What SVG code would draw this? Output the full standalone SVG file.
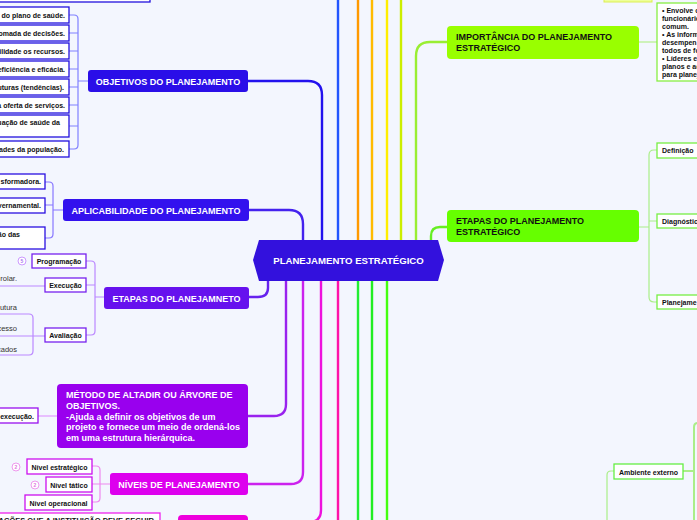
<svg xmlns="http://www.w3.org/2000/svg" width="697" height="520" viewBox="0 0 697 520">
<style>
.t{font-family:"Liberation Sans",Arial,sans-serif;font-weight:bold}
.n{font-size:9px;fill:#fff}
.nk{font-size:9px;fill:#111}
.s{font-size:7px;fill:#111}
.r{font-family:"Liberation Sans",Arial,sans-serif;font-size:7.5px;fill:#333}
.c{fill:none;stroke-linecap:round}
.m{stroke-width:2.4}
.b{fill:#fff;stroke-width:1.3}
</style>
<rect width="697" height="520" fill="#f3f6fe"/>
<g id="connectors" class="c">
<path class="c m" d="M338,240V-2" stroke="#2255ff"/>
<path class="c m" d="M358,240V-2" stroke="#ff9900"/>
<path class="c m" d="M372,240V-2" stroke="#ffbb00"/>
<path class="c m" d="M387,240V-2" stroke="#ffee00"/>
<path class="c m" d="M401,240V-2" stroke="#ccee00"/>
<path class="c m" d="M416,240V56Q416,42 430,42H447" stroke="#99ee33"/>
<path class="c m" d="M322,240V95Q322,81 308,81H248" stroke="#2211ee"/>
<path class="c m" d="M303,240V224Q303,210 289,210H249" stroke="#4422ee"/>
<path class="c m" d="M431,240V236Q431,227 440,227H447" stroke="#66ee22"/>
<path class="c m" d="M268,281V288Q268,297 258,297H249" stroke="#6622ee"/>
<path class="c m" d="M286,281V404Q286,416 274,416H248" stroke="#9922ee"/>
<path class="c m" d="M303,281V472Q303,484 291,484H248" stroke="#cc22ee"/>
<path class="c m" d="M321,281V510Q321,522 309,522" stroke="#ee11dd"/>
<path class="c m" d="M338,281V522" stroke="#ff11aa"/>
<path class="c m" d="M358,281V522" stroke="#22ee33"/>
<path class="c m" d="M372,281V522" stroke="#22ee22"/>
<path class="c m" d="M387,281V522" stroke="#44ff11"/>
<!-- objetivos bracket -->
<path class="c" stroke="#8080ff" stroke-width="1.2" d="M69,15H74Q78,15 78,19V145Q78,149 74,149H69M69,33H78M69,51H78M69,69H78M69,87H78M69,105H78M69,126H78M78,81H88"/>
<!-- aplicabilidade bracket -->
<path class="c" stroke="#8877ff" stroke-width="1.2" d="M45,182H49Q53,182 53,186V234Q53,238 49,238H45M45,205H53M53,210H63"/>
<!-- etapas bracket -->
<path class="c" stroke="#bb88ff" stroke-width="1.2" d="M86,261H91Q95,261 95,265V331Q95,335 91,335H86M86,285H95M95,297H104"/>
<path class="c" stroke="#bb88ff" stroke-width="1.2" d="M0,286H45M0,314H29Q33,314 33,318V351Q33,355 29,355H0M0,336H45"/>
<!-- metodo -->
<path class="c" stroke="#dd88ff" stroke-width="1.2" d="M38,416H57"/>
<!-- niveis bracket -->
<path class="c" stroke="#ee88ee" stroke-width="1.2" d="M92,466H96Q100,466 100,470V498Q100,502 96,502H92M92,484H110"/>
<!-- importancia -->
<path class="c" stroke="#aaee77" stroke-width="1.2" d="M639,42H657"/>
<!-- etapas estrategico bracket -->
<path class="c" stroke="#aaee88" stroke-width="1.2" d="M657,150H654Q649,150 649,155V297Q649,302 654,302H657M649,221H657M639,227H649"/>
<!-- ambiente externo -->
<path class="c" stroke="#aaee88" stroke-width="1.2" d="M614,471H611Q607,471 607,475V522"/>
<path class="c" stroke="#aaee88" stroke-width="2" d="M683,471H694M694,522V427Q694,423 698,423"/>
</g>

<g id="top-left-box"><rect class="b" x="-5" y="-20" width="155" height="22" stroke="#2211dd"/></g>
<g id="top-right-box"><rect x="604" y="-20" width="48" height="22" fill="#eeff99" stroke="#ddee55"/></g>

<g id="center">
<polygon points="259,240 438,240 444,260 438,281 259,281 253,260" fill="#3311dd"/>
<text class="t" x="348.5" y="264" text-anchor="middle" font-size="9.6" fill="#fff">PLANEJAMENTO ESTRATÉGICO</text>
</g>

<g id="objetivos">
<rect x="88" y="70" width="160" height="22" rx="3" fill="#2a0ee8"/>
<text class="t n" x="168" y="84.5" text-anchor="middle">OBJETIVOS DO PLANEJAMENTO</text>
</g>
<g id="objetivos-items" class="t s" text-anchor="end">
<rect class="b" x="-5" y="7" width="74" height="16" stroke="#2211dd"/><text x="65" y="17.5">do plano de saúde.</text>
<rect class="b" x="-5" y="25" width="74" height="16" stroke="#2211dd"/><text x="65" y="35.5">omada de decisões.</text>
<rect class="b" x="-5" y="43" width="74" height="16" stroke="#2211dd"/><text x="65" y="53.5">ilidade os recursos.</text>
<rect class="b" x="-5" y="61" width="74" height="16" stroke="#2211dd"/><text x="65" y="71.5">eficiência e eficácia.</text>
<rect class="b" x="-5" y="79" width="74" height="16" stroke="#2211dd"/><text x="64" y="89.5">uturas (tendências).</text>
<rect class="b" x="-5" y="97" width="74" height="16" stroke="#2211dd"/><text x="65" y="107.5">a oferta de serviços.</text>
<rect class="b" x="-5" y="115" width="74" height="22" stroke="#2211dd"/><text x="60" y="125">uação de saúde da</text>
<rect class="b" x="-5" y="141" width="74" height="16" stroke="#2211dd"/><text x="64" y="151.5">ades da população.</text>
</g>

<g id="aplicabilidade">
<rect x="63" y="199" width="186" height="22" rx="3" fill="#3311ee"/>
<text class="t n" x="156" y="213.5" text-anchor="middle">APLICABILIDADE DO PLANEJAMENTO</text>
</g>
<g id="aplicabilidade-items" class="t s" text-anchor="end">
<rect class="b" x="-5" y="174" width="50" height="15" stroke="#2a10e0"/><text x="41" y="184">sformadora.</text>
<rect class="b" x="-5" y="198" width="50" height="15" stroke="#2a10e0"/><text x="41" y="208">vernamental.</text>
<rect class="b" x="-5" y="227" width="50" height="22" stroke="#2a10e0"/><text x="20" y="237">ão das</text>
</g>

<g id="etapas">
<rect x="104" y="287" width="145" height="22" rx="3" fill="#6611ee"/>
<text class="t n" x="176.5" y="301.5" text-anchor="middle">ETAPAS DO PLANEJAMNETO</text>
</g>
<g id="programacao">
<circle cx="22" cy="261" r="4" fill="#fff" stroke="#cc99ff"/>
<text class="t" x="22" y="263" font-size="5" fill="#aa77ee" text-anchor="middle">5</text>
<rect class="b" x="32" y="254" width="54" height="14" stroke="#7722ee"/>
<text class="t s" x="59" y="264" text-anchor="middle">Programação</text>
</g>
<g id="execucao">
<rect class="b" x="45" y="278" width="41" height="14" stroke="#7722ee"/>
<text class="t s" x="65.5" y="288" text-anchor="middle">Execução</text>
<text class="r" x="17" y="281" text-anchor="end">rolar.</text>
</g>
<g id="avaliacao">
<rect class="b" x="45" y="328" width="41" height="14" stroke="#7722ee"/>
<text class="t s" x="65.5" y="338" text-anchor="middle">Avaliação</text>
<text class="r" x="17" y="310" text-anchor="end">utura</text>
<text class="r" x="17" y="331" text-anchor="end">cesso</text>
<text class="r" x="17" y="352" text-anchor="end">cados</text>
</g>

<g id="metodo">
<rect x="57" y="384" width="191" height="64" rx="4" fill="#9900ee"/>
<text class="t" x="66" y="398" font-size="9" fill="#fff">MÉTODO DE ALTADIR OU ÁRVORE DE<tspan x="66" dy="10.8">OBJETIVOS.</tspan><tspan x="66" dy="10.8">-Ajuda a definir os objetivos de um</tspan><tspan x="66" dy="10.8">projeto e fornece um meio de ordená-los</tspan><tspan x="66" dy="10.8">em uma estrutura hierárquica.</tspan></text>
</g>
<g id="metodo-item">
<rect class="b" x="-5" y="408" width="43" height="15" stroke="#9911ee"/>
<text class="t s" x="34" y="418.5" text-anchor="end">execução.</text>
</g>

<g id="niveis">
<rect x="110" y="473" width="138" height="22" rx="3" fill="#dd00ee"/>
<text class="t n" x="179" y="487.5" text-anchor="middle">NÍVEIS DE PLANEJAMENTO</text>
</g>
<g id="nivel-estrategico">
<circle cx="16" cy="467" r="4" fill="#fff" stroke="#ee99ee"/>
<text class="t" x="16" y="469" font-size="5" fill="#dd77dd" text-anchor="middle">2</text>
<rect class="b" x="27" y="459" width="65" height="15" stroke="#cc11ee"/>
<text class="t s" x="59.5" y="469.5" text-anchor="middle">Nível estratégico</text>
</g>
<g id="nivel-tatico">
<circle cx="35" cy="485" r="4" fill="#fff" stroke="#ee99ee"/>
<text class="t" x="35" y="487" font-size="5" fill="#dd77dd" text-anchor="middle">2</text>
<rect class="b" x="46" y="477" width="46" height="15" stroke="#cc11ee"/>
<text class="t s" x="69" y="487.5" text-anchor="middle">Nível tático</text>
</g>
<g id="nivel-operacional">
<rect class="b" x="25" y="495" width="67" height="15" stroke="#cc11ee"/>
<text class="t s" x="58.5" y="505.5" text-anchor="middle">Nível operacional</text>
</g>

<g id="orientacoes">
<rect class="b" x="-5" y="513" width="165" height="20" stroke="#ee22ee"/>
<text class="t" x="156" y="522.5" font-size="7.5" fill="#111" text-anchor="end">NTAÇÕES QUE A INSTITUIÇÃO DEVE SEGUIR.</text>
</g>
<g id="bottom-node"><rect x="178" y="515" width="70" height="12" rx="4" fill="#ee00dd"/></g>

<g id="importancia">
<rect x="447" y="26" width="192" height="33" rx="4" fill="#99ff00"/>
<text class="t nk" x="456" y="40">IMPORTÂNCIA DO PLANEJAMENTO<tspan x="456" dy="11">ESTRATÉGICO</tspan></text>
</g>
<g id="importancia-texto">
<rect x="657" y="3" width="60" height="78" fill="#fff" stroke="#88ee44" stroke-width="1.3"/>
<text class="t s" x="662" y="12.5">• Envolve o<tspan x="662" dy="8">funcionário</tspan><tspan x="662" dy="8">comum.</tspan><tspan x="662" dy="8">• As inform</tspan><tspan x="662" dy="8">desempen</tspan><tspan x="662" dy="8">todos de fo</tspan><tspan x="662" dy="8">• Líderes e</tspan><tspan x="662" dy="8">planos e ac</tspan><tspan x="662" dy="8">para planej</tspan></text>
</g>

<g id="etapas-estrategico">
<rect x="447" y="210" width="192" height="32" rx="4" fill="#66ff00"/>
<text class="t nk" x="456" y="223.5">ETAPAS DO PLANEJAMENTO<tspan x="456" dy="11">ESTRATÉGICO</tspan></text>
</g>
<g id="definicao">
<rect class="b" x="657" y="143" width="60" height="15" stroke="#77ee44"/>
<text class="t s" x="662" y="153">Definição</text>
</g>
<g id="diagnostico">
<rect class="b" x="657" y="214" width="60" height="14" stroke="#77ee44"/>
<text class="t s" x="662" y="223.5">Diagnóstic</text>
</g>
<g id="planejamento">
<rect class="b" x="657" y="295" width="60" height="14" stroke="#77ee44"/>
<text class="t s" x="662" y="304.5">Planejame</text>
</g>
<g id="ambiente-externo">
<rect class="b" x="614" y="464" width="69" height="15" stroke="#66ee44"/>
<text class="t s" x="648.5" y="474.5" text-anchor="middle">Ambiente externo</text>
</g>
</svg>
